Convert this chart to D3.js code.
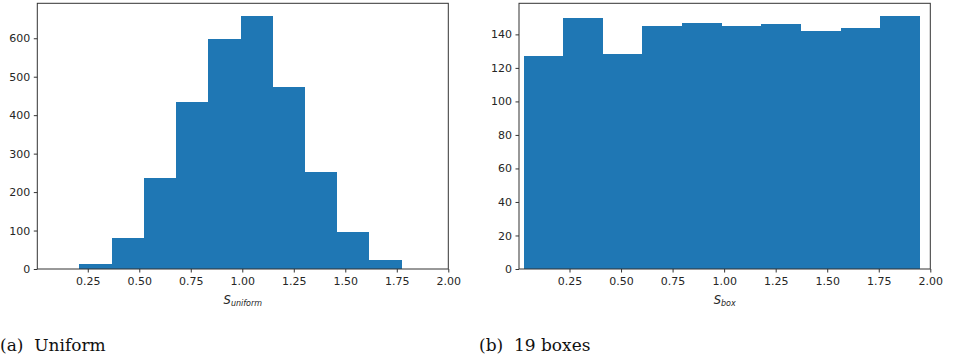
<!DOCTYPE html>
<html>
<head>
<meta charset="utf-8">
<script src="https://cdn.jsdelivr.net/npm/d3@7"></script>
<style>
  html, body { margin: 0; padding: 0; background: #fff; }
  svg { display: block; }
  .tick text { font-family: "DejaVu Sans", sans-serif; font-size: 11px; fill: #262626; }
</style>
</head>
<body>
<svg id="fig" width="954" height="361"></svg>
<script>
// Histogram (a): counts per bin, with the first bin edge and the bin width
const uniformCounts = [13, 80, 236, 433, 597, 658, 474, 251, 96, 23];
const uniformStart = 0.209;
const uniformWidth = 0.1565;

// Histogram (b): counts per bin, with the first bin edge and the bin width
const boxCounts = [127, 150, 128, 145, 147, 145, 146, 142, 144, 151];
const boxStart = 0.027;
const boxWidth = 0.1923;

// Shared x range and tick labels
const xDomain = [0.005, 2.0];
const xTicks = [0.25, 0.50, 0.75, 1.00, 1.25, 1.50, 1.75, 2.00];
const uniformYTicks = [0, 100, 200, 300, 400, 500, 600];
const boxYTicks = [0, 20, 40, 60, 80, 100, 120, 140];

// Axis labels and captions
const xLabels = [{ main: "S", sub: "uniform" }, { main: "S", sub: "box" }];
const captions = ["(a)  Uniform", "(b)  19 boxes"];

const svg = d3.select("#fig");
const barColor = "#1f77b4";

function panel(opts) {
  const { left, right, top, bottom, counts, start, width, yTicks, label, caption, captionX } = opts;
  const g = svg.append("g");

  const x = d3.scaleLinear().domain(xDomain).range([left, right]);
  const yMax = d3.max(counts) * 1.05;
  const y = d3.scaleLinear().domain([0, yMax]).range([bottom, top]);

  const bins = counts.map((c, i) => ({ x0: start + i * width, x1: start + (i + 1) * width, c }));

  g.selectAll("rect.bar").data(bins).join("rect")
    .attr("class", "bar")
    .attr("x", d => x(d.x0))
    .attr("width", d => x(d.x1) - x(d.x0))
    .attr("y", d => y(d.c))
    .attr("height", d => y(0) - y(d.c))
    .attr("fill", barColor)
    .attr("shape-rendering", "crispEdges");

  // frame
  g.append("rect")
    .attr("x", left).attr("y", top)
    .attr("width", right - left).attr("height", bottom - top)
    .attr("fill", "none").attr("stroke", "#333").attr("stroke-width", 1);

  const xAxis = d3.axisBottom(x).tickValues(xTicks).tickFormat(d3.format(".2f"))
    .tickSize(3.5).tickPadding(4.5);
  g.append("g").attr("transform", `translate(0,${bottom})`).call(xAxis)
    .call(s => s.select(".domain").remove())
    .call(s => s.selectAll(".tick line").attr("stroke", "#333"));

  const yAxis = d3.axisLeft(y).tickValues(yTicks).tickFormat(d3.format("d"))
    .tickSize(3.5).tickPadding(3.5);
  g.append("g").attr("transform", `translate(${left},0)`).call(yAxis)
    .call(s => s.select(".domain").remove())
    .call(s => s.selectAll(".tick line").attr("stroke", "#333"));

  // x label: italic S with a subscript
  const t = g.append("text")
    .attr("x", (left + right) / 2).attr("y", 303.5)
    .attr("text-anchor", "middle")
    .attr("font-family", "DejaVu Sans, sans-serif")
    .attr("font-style", "italic")
    .attr("fill", "#262626");
  t.append("tspan").attr("font-size", 11.5).text(label.main);
  t.append("tspan").attr("font-size", 8).attr("dy", 2.5).text(label.sub);

  // caption
  g.append("text")
    .attr("x", captionX).attr("y", 351)
    .attr("font-family", "DejaVu Serif, serif")
    .attr("font-size", 17)
    .attr("fill", "#111")
    .attr("xml:space", "preserve")
    .style("white-space", "pre")
    .text(caption);
}

panel({
  left: 37.3, right: 448.3, top: 3.3, bottom: 269,
  counts: uniformCounts, start: uniformStart, width: uniformWidth,
  yTicks: uniformYTicks, label: xLabels[0], caption: captions[0], captionX: 0
});

panel({
  left: 519, right: 930.3, top: 3.3, bottom: 269,
  counts: boxCounts, start: boxStart, width: boxWidth,
  yTicks: boxYTicks, label: xLabels[1], caption: captions[1], captionX: 479
});
</script>
</body>
</html>
